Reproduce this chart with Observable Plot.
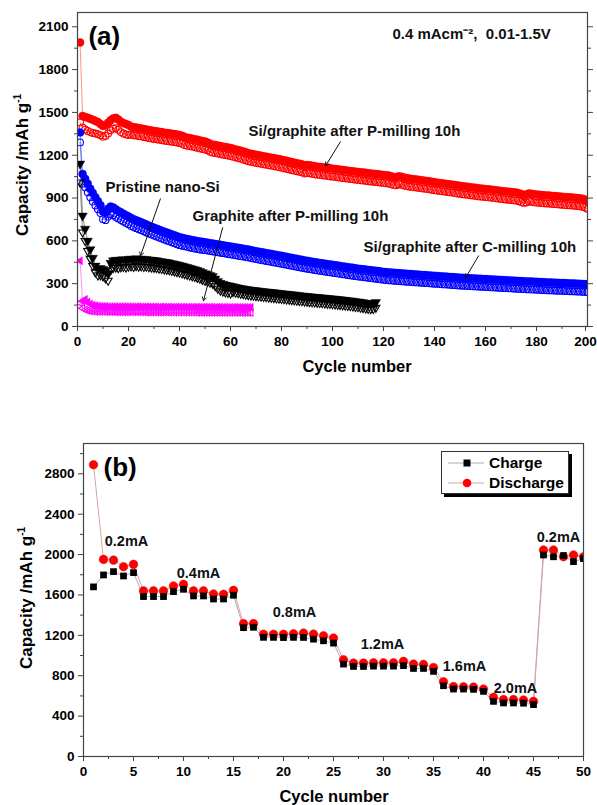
<!DOCTYPE html>
<html><head><meta charset="utf-8">
<script src="https://cdn.jsdelivr.net/npm/d3@7"></script>
<script src="https://cdn.jsdelivr.net/npm/@observablehq/plot@0.6"></script>
<style>
body{margin:0;background:#fff;}
#wrap{position:relative;width:597px;height:805px;overflow:hidden;font-family:"Liberation Sans",Arial,sans-serif;font-weight:bold;color:#000;background:#fff;}
#wrap > svg{position:absolute;left:0;}
.lab{position:absolute;white-space:nowrap;font-weight:bold;line-height:1;}
.ylab{font-size:17px;transform:translate(-50%,-50%) rotate(-90deg);}
.xlab{font-size:16.5px;transform:translate(-50%,-50%);}
.lab sup{font-size:10px;vertical-align:0;position:relative;top:-7px;}
#legend{position:absolute;left:441px;top:451px;width:126px;height:41px;border:1px solid #333;box-shadow:3px 3px 0 #000;background:#fff;}
.li{position:absolute;left:0;height:20px;display:flex;align-items:center;}
.li svg{display:block;}
.li span{font-size:15.5px;font-weight:bold;margin-left:3px;line-height:1;}
</style>
</head><body>
<div id="wrap"></div>
<script>
// ---------- Panel (a): cycling at 0.4 mA cm-2 ----------
const redDis = [1990,1475,1468,1462,1455,1448,1440,1432,1418,1405,
1410,1428,1445,1458,1462,1450,1435,1425,1418,1412,
1400,1396,1394,1390,1388,1384,1380,1376,1373,1370,
1368,1364,1362,1358,1356,1354,1350,1348,1345,1342,
1336,1328,1322,1320,1316,1312,1308,1304,1300,1296,
1290,1280,1274,1272,1268,1264,1260,1258,1254,1250,
1246,1240,1236,1232,1226,1220,1214,1210,1206,1203,
1200,1196,1192,1190,1186,1183,1180,1176,1173,1169,
1165,1161,1156,1152,1148,1144,1140,1136,1128,1132,
1130,1126,1123,1120,1118,1116,1114,1111,1108,1106,
1104,1101,1099,1096,1094,1092,1089,1087,1085,1083,
1081,1079,1077,1074,1072,1070,1068,1066,1064,1062,
1060,1058,1052,1048,1046,1052,1050,1044,1040,1037,
1034,1032,1030,1027,1024,1022,1020,1017,1014,1011,
1008,1006,1003,1001,998,996,994,991,988,986,
983,981,979,976,974,972,969,967,965,963,
961,959,957,954,952,950,948,946,944,942,
940,938,934,928,922,924,932,930,926,924,
923,921,920,918,917,915,914,912,911,909,
908,906,905,903,902,900,898,895,890,880];
const redCha = [1430,1395,1380,1370,1362,1356,1352,1348,1340,1330,
1335,1352,1375,1388,1390,1378,1362,1352,1346,1342,
1344,1340,1338,1334,1332,1328,1324,1320,1317,1314,
1312,1308,1306,1302,1300,1298,1294,1292,1289,1286,
1280,1272,1266,1264,1260,1256,1252,1248,1244,1240,
1234,1224,1218,1216,1212,1208,1204,1202,1198,1194,
1190,1184,1180,1176,1170,1164,1158,1154,1150,1147,
1144,1140,1136,1134,1130,1127,1124,1120,1117,1113,
1109,1105,1100,1096,1092,1088,1084,1080,1072,1076,
1074,1070,1067,1064,1062,1060,1058,1055,1052,1050,
1048,1045,1043,1040,1038,1036,1033,1031,1029,1027,
1025,1023,1021,1018,1016,1014,1012,1010,1008,1006,
1004,1002,996,992,990,996,994,988,984,981,
978,976,974,971,968,966,964,961,958,955,
952,950,947,945,942,940,938,935,932,930,
927,925,923,920,918,916,913,911,909,907,
905,903,901,898,896,894,892,890,888,886,
884,882,878,872,866,868,876,874,870,868,
867,865,864,862,861,859,858,856,855,853,
852,850,849,847,846,844,842,839,834,824];
const blueDis = [1360,1068,1035,1000,965,935,905,878,850,805,
798,825,840,834,822,810,800,790,780,770,
760,752,744,737,730,722,714,706,699,692,
685,678,671,664,658,652,645,639,632,625,
621,617,613,609,605,602,598,595,593,590,
587,584,581,578,575,572,569,566,563,560,
557,554,551,548,545,542,539,535,531,528,
524,521,518,514,511,508,504,501,498,495,
491,488,484,481,477,474,470,467,463,460,
457,454,451,448,445,443,440,437,435,432,
429,427,424,421,419,416,413,411,408,405,
403,401,399,396,394,392,390,388,385,382,
381,379,378,376,375,374,372,371,369,368,
367,365,364,363,361,360,359,358,356,355,
354,352,351,350,349,347,346,345,343,342,
341,340,339,338,337,336,335,334,333,332,
331,330,329,328,327,326,325,324,323,322,
321,320,319,318,317,316,315,315,314,313,
312,311,310,309,308,308,307,306,305,305,
304,303,302,302,301,300,299,298,297,296];
const blueCha = [1290,1000,975,940,905,875,848,822,795,752,
745,770,786,780,768,756,746,736,726,716,
705,697,689,682,675,667,659,651,644,637,
630,623,616,609,603,597,590,584,577,570,
566,562,558,554,550,547,543,540,538,535,
532,529,526,523,520,517,514,511,508,505,
502,499,496,493,490,487,484,480,476,473,
469,466,463,459,456,453,449,446,443,440,
436,433,429,426,422,419,415,412,408,405,
402,399,396,393,390,388,385,382,380,377,
374,372,369,366,364,361,358,356,353,350,
348,346,344,341,339,337,335,333,330,327,
326,324,323,321,320,319,317,316,314,313,
312,310,309,308,306,305,304,303,301,300,
299,297,296,295,294,292,291,290,288,287,
286,285,284,283,282,281,280,279,278,277,
276,275,274,273,272,271,270,269,268,267,
266,265,264,263,262,261,260,260,259,258,
257,256,255,254,253,253,252,251,250,250,
249,248,247,247,246,245,244,243,242,241];
const blackDis = [1140,776,684,600,540,480,425,405,408,402,
388,372,445,462,466,462,468,470,466,472,
474,470,476,472,474,470,472,468,466,464,
462,458,456,452,450,447,442,438,434,430,
425,420,415,410,405,400,394,388,380,372,
366,360,352,335,318,305,298,292,288,284,
280,276,272,268,265,262,259,256,254,252,
250,248,246,244,242,240,238,236,234,232,
230,228,226,224,222,220,218,216,214,212,
210,208,207,205,204,202,200,198,197,195,
193,191,189,187,185,183,181,179,176,174,
171,168,165,162,160,162,170];
const blackCha = [1010,660,600,530,475,425,380,358,360,352,
338,322,395,410,414,410,416,418,414,420,
422,418,424,420,422,418,420,416,414,412,
410,406,404,400,398,395,390,386,382,378,
373,368,363,358,353,348,342,336,328,320,
314,308,300,283,266,253,246,240,236,232,
242,238,234,230,227,224,221,218,216,214,
212,210,208,206,204,202,200,198,196,194,
192,190,188,186,184,182,180,178,176,174,
172,170,169,167,166,164,162,160,159,157,
155,153,151,149,147,145,143,141,138,136,
133,130,127,124,122,124,132];
const magDis = [460,178,190,172,158,150,146,144,142,142,
141,140,139,140,140,139,139,140,139,139,
139,138,139,139,138,138,139,138,138,138,
138,137,138,138,137,138,137,137,138,137,
137,137,136,137,137,136,137,136,136,137,
136,136,136,135,136,136,135,136,135,135,
135,136,135,135,134,135,135,134];
const magCha = [165,128,118,112,108,106,105,104,104,104,
103,103,103,103,102,102,102,102,102,102,
101,101,101,101,101,101,100,100,100,100,
100,100,100,100,100,100,99,99,99,99,
99,99,99,99,99,99,98,98,98,98,
98,98,98,98,98,98,98,97,97,97,
97,97,97,97,97,97,97,97];

const xMajorA = [0,20,40,60,80,100,120,140,160,180];
const xLastA = [200];
const xMinorA = [10,30,50,70,90,110,130,150,170,190];
const yMajorA = [0,300,600,900,1200,1500,1800,2100];
const yMinorA = [150,450,750,1050,1350,1650,1950];

// annotation anchors, in data units (cycle, mAh/g)
const labelsA = [
  {x:67.1, y:1371, text:"Si/graphite after P-milling 10h"},
  {x:11.0, y:974, text:"Pristine nano-Si"},
  {x:45.1, y:776, text:"Graphite after P-milling 10h"},
  {x:112.2, y:554, text:"Si/graphite after C-milling 10h"}
];
const arrowsA = [
  {x1:103.1, y1:1294, x2:97.3, y2:1126},
  {x1:32.5, y1:894, x2:24.7, y2:495},
  {x1:56.9, y1:692, x2:49.4, y2:180},
  {x1:157.3, y1:495, x2:152.2, y2:343}
];

// ---------- Panel (b): rate capability ----------
const cyclesB = d3.range(1, 51);
const chargeB = [1680,1798,1831,1788,1821,1584,1584,1584,1633,1656,
1590,1590,1560,1560,1597,1276,1280,1180,1180,1178,
1180,1179,1162,1146,1123,915,892,892,895,895,
895,900,872,872,843,701,668,668,665,645,
546,530,530,528,514,1996,1978,1990,1930,1960];
const dischargeB = [2890,1952,1945,1880,1903,1640,1640,1640,1689,1706,
1640,1640,1610,1607,1646,1316,1316,1211,1211,1211,
1215,1222,1212,1195,1173,958,925,925,928,928,
928,942,915,912,882,741,692,690,688,668,
586,563,563,560,546,2045,2045,1978,1996,1978];
const xMajorB = [0,5,10,15,20,25,30,35,40,45,50];
const xMinorB = [2.5,7.5,12.5,17.5,22.5,27.5,32.5,37.5,42.5,47.5];
const yMajorB = [0,400,800,1200,1600,2000,2400,2800];
const yMinorB = [200,600,1000,1400,1800,2200,2600,3000];
const rateLabels = [
  {x:4.3, y:2134, text:"0.2mA"},
  {x:11.5, y:1809, text:"0.4mA"},
  {x:21.1, y:1425, text:"0.8mA"},
  {x:29.9, y:1115, text:"1.2mA"},
  {x:38.1, y:897, text:"1.6mA"},
  {x:43.2, y:677, text:"2.0mA"},
  {x:47.5, y:2174, text:"0.2mA"}
];

const rows = arr => arr.map((v, i) => ({cycle: i + 1, cap: v}));
const FONT = "'Liberation Sans', Arial, sans-serif";
const svgStyle = `font-family:${FONT};font-size:13.5px;font-weight:bold;color:#000;background:transparent;overflow:visible;`;
const fmt = d => `${d}`;
const AX = "#444";

function series(dis, cha, color, sym) {
  const base = {x: "cycle", y: "cap", clip: true};
  const symOpts = sym.symbol ? {symbol: sym.symbol, rotate: sym.rotate || 0} : {};
  return [
    Plot.line(rows(dis), {...base, stroke: color, strokeWidth: 0.8, strokeOpacity: 0.55}),
    Plot.line(rows(cha), {...base, stroke: color, strokeWidth: 0.8, strokeOpacity: 0.55}),
    Plot.dot(rows(cha), {...base, ...symOpts, r: sym.ro, fill: "none", stroke: color, strokeWidth: 1.1}),
    Plot.dot(rows(dis), {...base, ...symOpts, r: sym.r, fill: color, stroke: color, strokeWidth: 0.4})
  ];
}

const plotA = Plot.plot({
  width: 597, height: 400,
  marginLeft: 77, marginRight: 10, marginTop: 12, marginBottom: 74,
  style: svgStyle,
  x: {domain: [0, 200], label: null},
  y: {domain: [0, 2200], label: null},
  marks: [
    Plot.axisX({ticks: xMajorA, tickSize: 5, tickPadding: 5, tickFormat: fmt, label: null, stroke: AX}),
    Plot.axisX({ticks: xLastA, tickSize: 5, tickPadding: 5, tickFormat: fmt, label: null, stroke: AX, dx: -2}),
    Plot.axisX({ticks: xMinorA, tickSize: 3, fill: "none", label: null, stroke: AX}),
    Plot.axisY({ticks: yMajorA, tickSize: 5, tickPadding: 4, tickFormat: fmt, label: null, stroke: AX}),
    Plot.axisY({ticks: yMinorA, tickSize: 3, fill: "none", label: null, stroke: AX}),
    Plot.axisY({anchor: "right", ticks: yMajorA, tickSize: 5, fill: "none", label: null, stroke: AX}),
    Plot.axisY({anchor: "right", ticks: yMinorA, tickSize: 3, fill: "none", label: null, stroke: AX}),
    ...series(redDis, redCha, "#ff0000", {r: 4, ro: 3.4}),
    ...series(blueDis, blueCha, "#0000ff", {r: 4, ro: 3.4}),
    ...series(blackDis, blackCha, "#000000", {r: 3.5, ro: 3, symbol: "triangle", rotate: 180}),
    ...series(magDis, magCha, "#ff00ff", {r: 3, ro: 2.6, symbol: "triangle", rotate: -90}),
    Plot.frame({stroke: AX, strokeWidth: 1.2}),
    Plot.text(labelsA, {x: "x", y: "y", text: "text", textAnchor: "start", fontSize: 15, fontWeight: "bold", fontFamily: FONT, fill: "#111"}),
    Plot.arrow(arrowsA, {x1: "x1", y1: "y1", x2: "x2", y2: "y2", stroke: "#111", strokeWidth: 1, headLength: 6}),
    Plot.text(["(a)"], {x: 4.3, y: 2030, text: d => d, textAnchor: "start", fontSize: 26, fontWeight: "bold", fontFamily: FONT, fill: "#000"}),
    Plot.text(["0.4 mAcm\u207B\u00B2,\u00A0\u00A00.01-1.5V"], {x: 123.5, y: 2051, text: d => d, textAnchor: "start", fontSize: 15, fontWeight: "bold", fontFamily: FONT, fill: "#111"})
  ]
});

const rowsB = (arr) => arr.map((v, i) => ({cycle: cyclesB[i], cap: v}));
const plotB = Plot.plot({
  width: 597, height: 405,
  marginLeft: 83, marginRight: 14, marginTop: 43, marginBottom: 49,
  style: svgStyle,
  x: {domain: [0, 50], label: null},
  y: {domain: [0, 3100], label: null},
  marks: [
    Plot.axisX({ticks: xMajorB, tickSize: 5, tickPadding: 5, tickFormat: fmt, label: null, stroke: AX}),
    Plot.axisX({ticks: xMinorB, tickSize: 3, fill: "none", label: null, stroke: AX}),
    Plot.axisY({ticks: yMajorB, tickSize: 5, tickPadding: 4, tickFormat: fmt, label: null, stroke: AX}),
    Plot.axisY({ticks: yMinorB, tickSize: 3, fill: "none", label: null, stroke: AX}),
    Plot.line(rowsB(chargeB), {x: "cycle", y: "cap", stroke: "#999", strokeWidth: 0.8, clip: true}),
    Plot.line(rowsB(dischargeB), {x: "cycle", y: "cap", stroke: "#d9a3a3", strokeWidth: 1, clip: true}),
    Plot.dot(rowsB(dischargeB), {x: "cycle", y: "cap", r: 4.3, fill: "#ff0000", stroke: "#e00000", strokeWidth: 0.5, clip: true}),
    Plot.dot(rowsB(chargeB), {x: "cycle", y: "cap", symbol: "square", r: 3.8, fill: "#000", clip: true}),
    Plot.frame({stroke: AX, strokeWidth: 1.2}),
    Plot.text(rateLabels, {x: "x", y: "y", text: "text", textAnchor: "middle", fontSize: 14.5, fontWeight: "bold", fontFamily: FONT, fill: "#111"}),
    Plot.text(["(b)"], {x: 2.0, y: 2860, text: d => d, textAnchor: "start", fontSize: 26, fontWeight: "bold", fontFamily: FONT, fill: "#000"})
  ]
});

const wrap = document.getElementById("wrap");
plotA.style.top = "0px";
plotB.style.top = "400px";
wrap.appendChild(plotA);
wrap.appendChild(plotB);

function addLabel(html, cls, left, top) {
  const d = document.createElement("div");
  d.className = "lab " + cls;
  d.style.left = left + "px";
  d.style.top = top + "px";
  d.innerHTML = html;
  wrap.appendChild(d);
}
addLabel("Capacity /mAh g<sup>-1</sup>", "ylab", 22, 165);
addLabel("Cycle number", "xlab", 357, 366);
addLabel("Capacity /mAh g<sup>-1</sup>", "ylab", 26, 598);
addLabel("Cycle number", "xlab", 334, 796);

// legend for panel (b)
const legend = document.createElement("div");
legend.id = "legend";
legend.innerHTML = `
  <div class="li" style="top:1px"><svg width="44" height="20"><line x1="6" x2="42" y1="10" y2="10" stroke="#999" stroke-width="0.8"/><rect x="21.5" y="6.5" width="7" height="7" fill="#000"/></svg><span>Charge</span></div>
  <div class="li" style="top:21px"><svg width="44" height="20"><line x1="6" x2="42" y1="10" y2="10" stroke="#d9a3a3" stroke-width="1"/><circle cx="25" cy="10" r="4.3" fill="#ff0000"/></svg><span>Discharge</span></div>`;
wrap.appendChild(legend);
</script>
</body></html>
